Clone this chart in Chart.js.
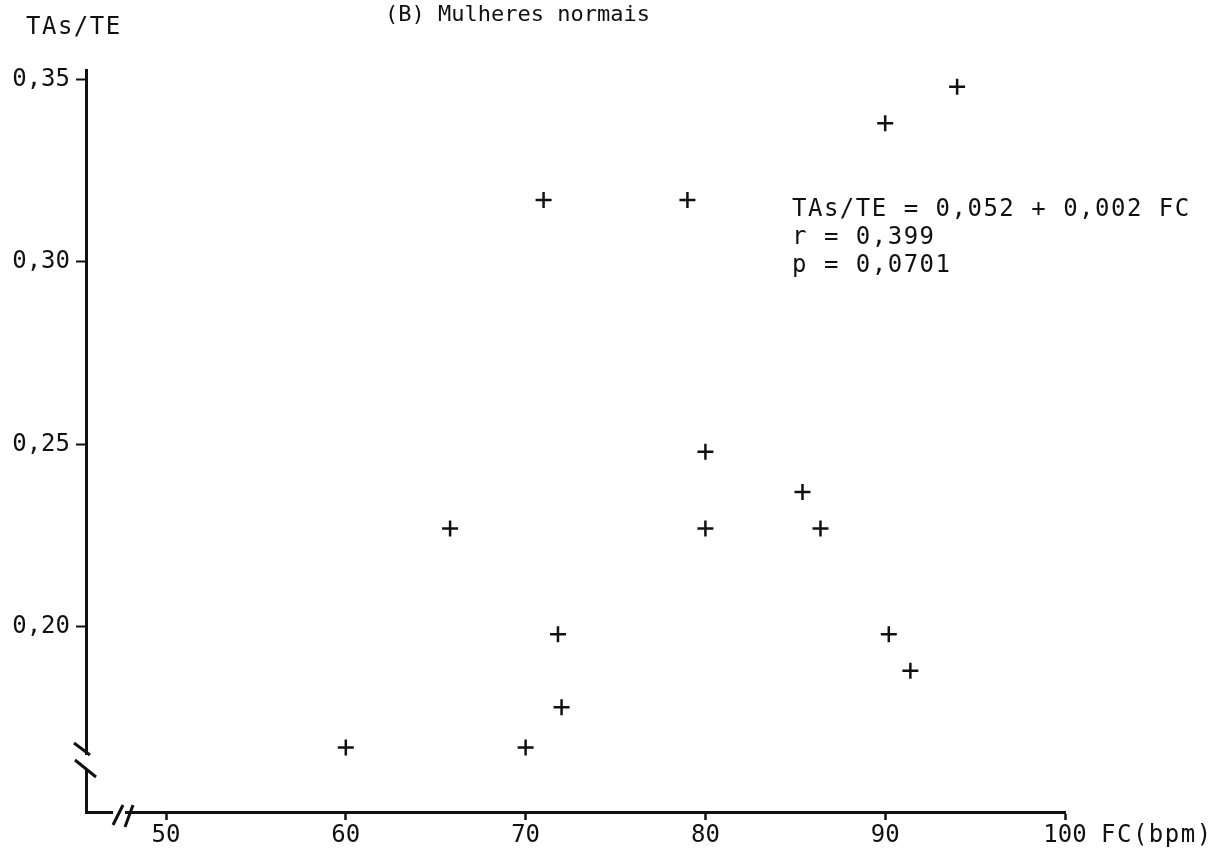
<!DOCTYPE html>
<html>
<head>
<meta charset="utf-8">
<script src="https://cdn.jsdelivr.net/npm/chart.js@4/dist/chart.umd.min.js"></script>
<style>
html, body { margin: 0; padding: 0; background: #fff; }
canvas { display: block; }
</style>
</head>
<body>
<canvas id="grafico" width="1232" height="856"></canvas>
<script>
// FC (bpm) x TAs/TE - mulheres normais
var fc    = [60, 65.8, 70, 72, 71.8, 71, 79, 80, 80, 85.4, 86.4, 90.2, 91.4, 90, 94];
var tasTe = [0.167, 0.227, 0.167, 0.178, 0.198, 0.317, 0.317, 0.248, 0.227, 0.237, 0.227, 0.198, 0.188, 0.338, 0.348];
var xTicks = [50, 60, 70, 80, 90, 100];
var yTicks = [0.20, 0.25, 0.30, 0.35];
var equacao = ["TAs/TE = 0,052 + 0,002 FC", "r = 0,399", "p = 0,0701"];

var fonte = '"DejaVu Sans Mono", monospace';
var tinta = '#111';

var pontos = fc.map(function (v, i) { return { x: v, y: tasTe[i] }; });

// textos soltos e quebras dos eixos
var extras = {
    id: 'extras',
    afterDraw: function (chart) {
        var ctx = chart.ctx;
        var a = chart.chartArea;
        ctx.save();
        ctx.fillStyle = tinta;
        ctx.strokeStyle = tinta;
        ctx.textBaseline = 'middle';
        ctx.textAlign = 'left';
        ctx.font = '24px ' + fonte;
        ctx.letterSpacing = '1.5px';
        ctx.fillText('TAs/TE', 26, 28);
        ctx.fillText('FC(bpm)', a.right + 36, a.bottom + 24);
        equacao.forEach(function (t, i) {
            ctx.fillText(t, 792, 210 + i * 28);
        });
        ctx.font = '22px ' + fonte;
        ctx.letterSpacing = '0px';
        ctx.fillText('(B) Mulheres normais', 385, 15);

        // quebra no eixo y
        ctx.lineWidth = 3;
        ctx.fillStyle = '#fff';
        ctx.fillRect(a.left - 3, a.bottom - 57, 6, 14);
        ctx.beginPath();
        ctx.moveTo(a.left - 12, a.bottom - 69);
        ctx.lineTo(a.left + 4, a.bottom - 57);
        ctx.moveTo(a.left - 11, a.bottom - 52);
        ctx.lineTo(a.left + 10, a.bottom - 35);
        ctx.stroke();

        // quebra no eixo x
        ctx.fillRect(a.left + 27, a.bottom - 3, 12, 6);
        ctx.beginPath();
        ctx.moveTo(a.left + 27, a.bottom + 13);
        ctx.lineTo(a.left + 37, a.bottom - 7);
        ctx.moveTo(a.left + 39, a.bottom + 15);
        ctx.lineTo(a.left + 47, a.bottom - 7);
        ctx.stroke();
        ctx.restore();
    }
};

new Chart(document.getElementById('grafico'), {
    type: 'scatter',
    data: {
        datasets: [{
            label: 'TAs/TE',
            data: pontos,
            pointStyle: 'cross',
            pointRadius: 8,
            pointBorderWidth: 2.5,
            borderColor: tinta,
            backgroundColor: tinta
        }]
    },
    options: {
        responsive: false,
        animation: false,
        layout: { padding: { top: 70, right: 167, left: 0, bottom: 0 } },
        plugins: { legend: { display: false }, tooltip: { enabled: false } },
        scales: {
            x: {
                type: 'linear',
                min: 45.55,
                max: 100,
                afterFit: function (s) { s.height = 44; },
                afterBuildTicks: function (s) {
                    s.ticks = xTicks.map(function (v) { return { value: v }; });
                },
                ticks: {
                    color: tinta,
                    padding: 1,
                    maxRotation: 0,
                    font: { family: fonte, size: 24 },
                    callback: function (v) { return String(v); }
                },
                grid: { drawOnChartArea: false, tickLength: 8, tickWidth: 2.5, tickColor: tinta },
                border: { color: tinta, width: 3 }
            },
            y: {
                type: 'linear',
                min: 0.1493,
                max: 0.3526,
                afterFit: function (s) { s.width = 86; },
                afterBuildTicks: function (s) {
                    s.ticks = yTicks.map(function (v) { return { value: v }; });
                },
                ticks: {
                    color: tinta,
                    padding: 6,
                    font: { family: fonte, size: 24 },
                    callback: function (v) { return v.toFixed(2).replace('.', ','); }
                },
                grid: { drawOnChartArea: false, tickLength: 10, tickWidth: 2, tickColor: tinta },
                border: { color: tinta, width: 3 }
            }
        }
    },
    plugins: [extras]
});
</script>
</body>
</html>
